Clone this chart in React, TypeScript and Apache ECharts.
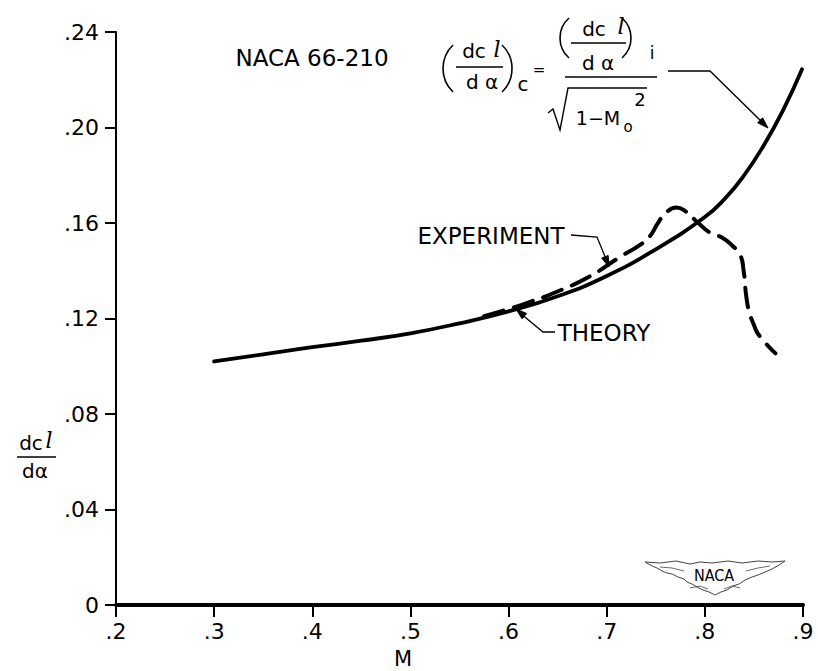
import React, { useEffect, useRef } from "react";
import * as echarts from "echarts";

// ---- data ----
const theoryMach = [0.30, 0.35, 0.40, 0.45, 0.50, 0.55, 0.60, 0.65, 0.70, 0.75, 0.80, 0.82, 0.84, 0.86, 0.88, 0.899];
const theorySlope = [0.1020, 0.1050, 0.1080, 0.1107, 0.1138, 0.1180, 0.1230, 0.1293, 0.1378, 0.1490, 0.1625, 0.1700, 0.1800, 0.1925, 0.2075, 0.2244];

const experimentMach = [0.575, 0.600, 0.622, 0.648, 0.682, 0.714, 0.734, 0.744, 0.752, 0.760, 0.771, 0.780, 0.792, 0.806, 0.817, 0.828, 0.836, 0.8395, 0.842, 0.845, 0.850, 0.855, 0.872];
const experimentSlope = [0.1210, 0.1240, 0.1270, 0.1310, 0.1375, 0.1459, 0.1508, 0.1545, 0.1598, 0.1642, 0.1665, 0.1650, 0.1605, 0.1557, 0.1540, 0.1505, 0.1466, 0.1400, 0.1300, 0.1230, 0.1173, 0.1131, 0.1054];

const xTickLabels = [".2", ".3", ".4", ".5", ".6", ".7", ".8", ".9"];
const yTickLabels = ["0", ".04", ".08", ".12", ".16", ".20", ".24"];

const FONT = "DejaVu Sans";

type P = [number, number];

function arrowHead(from: P, tip: P, len = 11, half = 3.5) {
  const dx = tip[0] - from[0];
  const dy = tip[1] - from[1];
  const d = Math.hypot(dx, dy);
  const ux = dx / d, uy = dy / d;
  const bx = tip[0] - ux * len, by = tip[1] - uy * len;
  const px = -uy, py = ux;
  return {
    type: "polygon",
    shape: { points: [tip, [bx + px * half, by + py * half], [bx - px * half, by - py * half]] },
    style: { fill: "#000", stroke: "#000", lineWidth: 1 },
    silent: true,
  };
}

function paren(bulgeX: number, endX: number, yTop: number, yBot: number, lw = 1.6) {
  const h = (yBot - yTop) / 2;
  const w = Math.abs(endX - bulgeX);
  const r = (h * h + w * w) / (2 * w);
  const a = Math.asin(h / r);
  const cy = (yTop + yBot) / 2;
  const left = endX > bulgeX;
  const cx = left ? bulgeX + r : bulgeX - r;
  return {
    type: "arc",
    shape: left
      ? { cx, cy, r, startAngle: Math.PI - a, endAngle: Math.PI + a, clockwise: true }
      : { cx, cy, r, startAngle: -a, endAngle: a, clockwise: true },
    style: { stroke: "#000", lineWidth: lw, fill: null },
    silent: true,
  };
}

function txt(text: string, x: number, y: number, size: number, extra: any = {}) {
  return {
    type: "text",
    x,
    y,
    silent: true,
    style: {
      text,
      fontSize: size,
      fontFamily: FONT,
      fill: "#000",
      align: "center",
      verticalAlign: "middle",
      ...extra,
    },
  };
}

function line(x1: number, y1: number, x2: number, y2: number, lw = 1.5) {
  return { type: "line", shape: { x1, y1, x2, y2 }, style: { stroke: "#000", lineWidth: lw }, silent: true };
}

function poly(points: P[], lw = 1.5, stroke = "#000") {
  return { type: "polyline", shape: { points }, style: { stroke, lineWidth: lw, fill: null }, silent: true };
}

function buildGraphics() {
  const g: any[] = [];
  // title
  g.push(txt("NACA 66-210", 312, 58, 23, { letterSpacing: 1 }));

  // formula: left side
  g.push(paren(443, 453, 45, 92));
  g.push(txt("dc", 474, 51, 20));
  g.push(txt("l", 497, 49, 22, { fontStyle: "italic", fontFamily: "DejaVu Serif" }));
  g.push(line(456, 67, 503, 67, 1.3));
  g.push(txt("d α", 482, 82, 20));
  g.push(paren(512, 502, 45, 92));
  g.push(txt("c", 523, 84, 20));
  g.push(txt("=", 539, 70, 15));

  // formula: right side numerator
  g.push(paren(560, 569, 18, 58));
  g.push(txt("dc", 594, 29, 20));
  g.push(txt("l", 621, 26, 22, { fontStyle: "italic", fontFamily: "DejaVu Serif" }));
  g.push(line(571, 43, 626, 43, 1.3));
  g.push(txt("d α", 598, 63, 20));
  g.push(paren(631, 622, 18, 58));
  g.push(txt("i", 652, 53, 17));
  // main fraction bar
  g.push(line(565, 77, 657, 77, 1.5));
  // denominator with radical
  g.push(poly([[548, 113], [553, 109], [560, 130], [568, 88], [647, 88]], 1.4));
  g.push(txt("1−M", 598, 118, 19));
  g.push(txt("o", 628, 127, 15));
  g.push(txt("2", 640, 99, 18));

  // leader from formula to theory curve
  g.push(poly([[668, 71], [710, 71], [766, 126]], 1.3));
  g.push(arrowHead([710, 71], [768, 128]));

  // EXPERIMENT label and leader
  g.push(txt("EXPERIMENT", 491, 236, 23));
  g.push(poly([[571, 235], [597, 237], [606, 259]], 1.3));
  g.push(arrowHead([597, 237], [609, 267]));

  // THEORY label and leader
  g.push(txt("THEORY", 604, 333, 23));
  g.push(poly([[555, 332], [543, 332], [520, 313]], 1.3));
  g.push(arrowHead([543, 332], [516, 309]));

  // y-axis name as fraction
  g.push(txt("dc", 31, 443, 20));
  g.push(txt("l", 49, 440, 22, { fontStyle: "italic", fontFamily: "DejaVu Serif" }));
  g.push(line(17, 457, 56, 457, 1.5));
  g.push(txt("dα", 35, 471, 20));

  // x-axis name
  g.push(txt("M", 403, 659, 21));

  // NACA wings logo
  const grey = "#444";
  g.push(poly([[645, 562], [660, 563], [676, 561], [690, 564], [700, 562], [712, 563], [728, 561], [742, 563], [758, 561], [772, 562], [785, 561]], 1, grey));
  g.push(poly([[645, 562], [652, 566], [657, 568], [662, 571], [667, 573], [672, 574], [678, 577], [684, 579], [687, 582], [692, 584], [697, 587], [703, 590], [709, 592], [715, 595]], 1, grey));
  g.push(poly([[715, 595], [721, 592], [727, 590], [733, 586], [739, 584], [745, 580], [752, 577], [758, 575], [765, 572], [772, 569], [779, 565], [785, 561]], 1, grey));
  g.push(poly([[660, 567], [672, 568], [684, 571]], 0.8, grey));
  g.push(poly([[770, 566], [758, 568], [746, 571]], 0.8, grey));
  g.push(poly([[690, 588], [700, 586], [708, 589]], 0.8, grey));
  g.push(poly([[724, 589], [732, 586], [740, 588]], 0.8, grey));
  g.push(txt("NACA", 714, 575, 16, { fontFamily: "DejaVu Sans Condensed" }));

  return g;
}

export default function App() {
  const ref = useRef<HTMLDivElement>(null);
  useEffect(() => {
    document.body.style.margin = "0";
    if (!ref.current) return;
    const chart = echarts.init(ref.current, null, { renderer: "svg" });
    const theory = theoryMach.map((m, i) => [m, theorySlope[i]]);
    const experiment = experimentMach.map((m, i) => [m, experimentSlope[i]]);
    chart.setOption({
      animation: false,
      backgroundColor: "#fff",
      grid: { left: 116, right: 15, top: 32, bottom: 66, containLabel: false },
      xAxis: {
        type: "value",
        min: 0.2,
        max: 0.9,
        interval: 0.1,
        splitLine: { show: false },
        axisLine: { show: true, onZero: false, lineStyle: { color: "#000", width: 4 } },
        axisTick: { show: true, inside: false, length: 12, lineStyle: { color: "#000", width: 2 } },
        axisLabel: {
          margin: 15,
          color: "#000",
          fontSize: 22,
          fontFamily: FONT,
          formatter: (v: number) => xTickLabels[Math.round((v - 0.2) * 10)] ?? "",
        },
      },
      yAxis: {
        type: "value",
        min: 0,
        max: 0.24,
        interval: 0.04,
        splitLine: { show: false },
        axisLine: { show: true, onZero: false, lineStyle: { color: "#000", width: 2 } },
        axisTick: { show: true, inside: false, length: 11, lineStyle: { color: "#000", width: 2 } },
        axisLabel: {
          margin: 17,
          color: "#000",
          fontSize: 22,
          fontFamily: FONT,
          formatter: (v: number) => yTickLabels[Math.round(v / 0.04)] ?? "",
        },
      },
      series: [
        {
          name: "Theory",
          type: "line",
          data: theory,
          smooth: 0.5,
          showSymbol: false,
          symbol: "none",
          lineStyle: { color: "#000", width: 3.8, cap: "round" },
          z: 3,
        },
        {
          name: "Experiment",
          type: "line",
          data: experiment,
          smooth: 0.5,
          showSymbol: false,
          symbol: "none",
          lineStyle: { color: "#000", width: 4, type: [20, 11], cap: "round" },
          z: 4,
        },
      ],
      graphic: buildGraphics(),
    });
    return () => chart.dispose();
  }, []);
  return <div ref={ref} style={{ width: 818, height: 671 }} />;
}
